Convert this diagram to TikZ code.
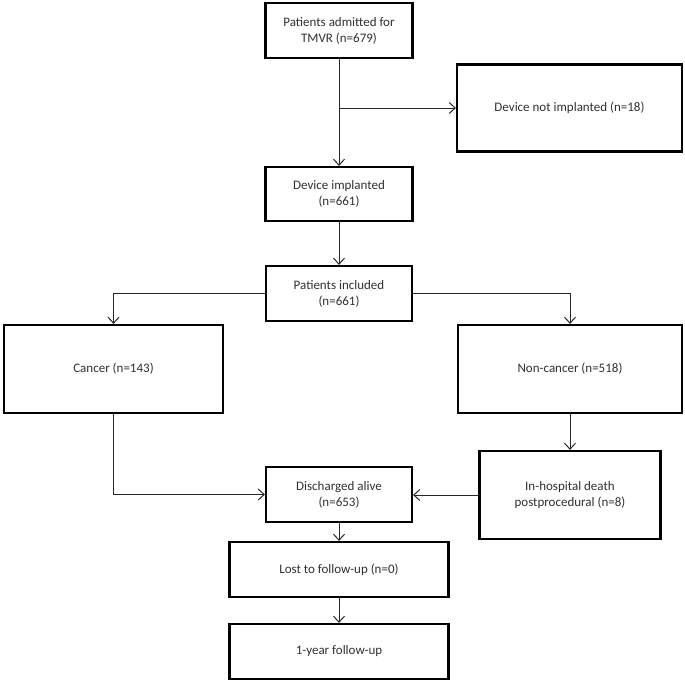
\documentclass[tikz,border=0pt]{standalone}
\usepackage{fontspec}
\setmainfont{Carlito}
\usetikzlibrary{arrows.meta}
\definecolor{txt}{HTML}{303030}
\tikzset{
  box/.style={draw=black, line width=2.2pt, rectangle, align=center, inner sep=2pt,
    font=\fontsize{13}{16}\selectfont, text=txt},
  arr/.style={draw=black!85, line width=1pt, -{Straight Barb[length=6pt,width=11pt,line width=1pt]}}
}
\begin{document}
\begin{tikzpicture}[x=1pt,y=-1pt]
\useasboundingbox (0,0) rectangle (685,680);
\node[box, minimum width=147pt, minimum height=55pt] (b1) at (339,30.5) {Patients admitted for\\TMVR (n=679)};
\node[box, minimum width=225pt, minimum height=87pt] (dni) at (569.5,108) {Device not implanted (n=18)};
\node[box, minimum width=147pt, minimum height=54pt] (di) at (339,194) {Device implanted\\(n=661)};
\node[box, minimum width=146pt, minimum height=55pt] (pi) at (339,293.5) {Patients included\\(n=661)};
\node[box, minimum width=219pt, minimum height=88pt] (ca) at (113.5,369) {Cancer (n=143)};
\node[box, minimum width=224pt, minimum height=88pt] (nc) at (570,369) {Non-cancer (n=518)};
\node[box, minimum width=146pt, minimum height=55pt] (dis) at (339,494.5) {Discharged alive\\(n=653)};
\node[box, minimum width=181pt, minimum height=88pt] (ih) at (570,495) {In-hospital death\\postprocedural (n=8)};
\node[box, minimum width=219pt, minimum height=55pt] (lost) at (339,569.5) {Lost to follow-up (n=0)};
\node[box, minimum width=219pt, minimum height=55pt] (oy) at (339,651.5) {1-year follow-up};
\draw[arr] (b1) -- (di);
\draw[arr] (b1.south |- dni.west) -- (dni.west);
\draw[arr] (di) -- (pi);
\draw[arr] (pi.west) -| (ca.north);
\draw[arr] (pi.east) -| (nc.north);
\draw[arr] (ca.south) |- (dis.west);
\draw[arr] (nc) -- (ih);
\draw[arr] (ih.west) -- (ih.west -| dis.east);
\draw[arr] (dis) -- (lost);
\draw[arr] (lost) -- (oy);
\end{tikzpicture}
\end{document}
